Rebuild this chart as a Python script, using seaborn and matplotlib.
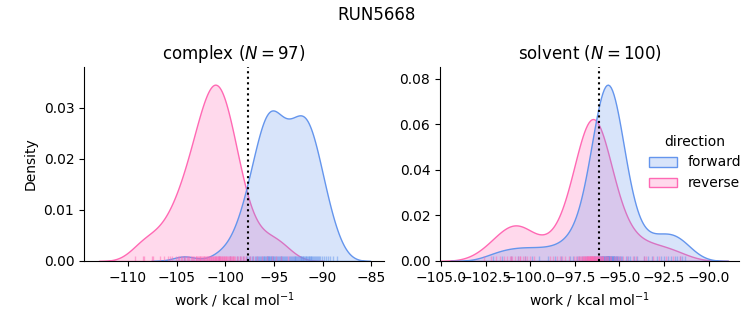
import numpy as np
import pandas as pd
import matplotlib
matplotlib.use("Agg")
import matplotlib.pyplot as plt
import seaborn as sns

run_name = "RUN5668"
phases = ["complex", "solvent"]
directions = ["forward", "reverse"]
colors = ["cornflowerblue", "hotpink"]
delta_f = [-97.67, -96.13]
x_limits = [(-114.5, -83.7), (-105.06, -88.3)]

complex_forward = [
    -104.2, -100.6, -99.5, -98.8, -98.5, -98.2,
    -97.9, -97.75, -97.6, -97.45, -97.3, -97.15,
    -96.95, -96.85, -96.75, -96.65, -96.55, -96.45, -96.35, -96.25, -96.15, -96.05,
    -95.97, -95.9, -95.83, -95.76, -95.69, -95.62, -95.58, -95.55, -95.48, -95.41,
    -95.34, -95.27, -95.2, -95.12, -95.05,
    -94.95, -94.86, -94.77, -94.68, -94.59, -94.5, -94.41, -94.32, -94.23, -94.14, -94.05,
    -93.94, -93.83, -93.72, -93.61, -93.5, -93.39, -93.28, -93.17, -93.06,
    -92.96, -92.88, -92.81, -92.73, -92.65, -92.58, -92.42, -92.35, -92.27,
    -92.19, -92.12, -92.04,
    -91.97, -91.9, -91.82, -91.75, -91.67, -91.6, -91.52, -91.45, -91.37, -91.3,
    -91.22, -91.15, -91.05,
    -90.95, -90.85, -90.75, -90.65, -90.55, -90.45, -90.35, -90.25, -90.1,
    -89.9, -89.7, -89.45, -89.2, -88.9, -88.5,
]

complex_reverse = [
    -109.3, -108.45, -108.3, -107.55, -107.4, -106.7, -106.3,
    -105.9, -105.7, -105.5, -105.1,
    -104.9, -104.74, -104.58, -104.42, -104.26, -104.1,
    -103.94, -103.81, -103.68, -103.55, -103.42, -103.29, -103.16, -103.04,
    -102.96, -102.88, -102.79, -102.71, -102.63, -102.54, -102.46, -102.38, -102.29,
    -102.21, -102.13, -102.04,
    -101.97, -101.9, -101.84, -101.77, -101.7, -101.64, -101.57, -101.5, -101.44,
    -101.37, -101.3, -101.24, -101.17, -101.1, -101.04,
    -100.97, -100.9, -100.84, -100.77, -100.7, -100.64, -100.6, -100.57, -100.5,
    -100.44, -100.37, -100.3, -100.24, -100.17, -100.1, -100.04,
    -99.96, -99.88, -99.8, -99.72, -99.64, -99.56, -99.48, -99.4, -99.32, -99.24,
    -99.16, -99.08,
    -98.95, -98.8, -98.65, -98.5, -98.35, -98.2, -98.05,
    -97.85, -97.5, -97.15, -96.7, -96.2, -95.7, -95.2, -94.8, -94.3, -93.6,
]

solvent_forward = [
    -102.1, -101.6, -101.1, -100.7, -100.3, -99.9, -99.5, -99.0, -98.6,
    -98.3, -97.8, -97.6, -97.4, -97.25, -97.1,
    -96.95, -96.8, -96.65,
    -96.45, -96.4, -96.35,
    -96.25, -96.22, -96.18, -96.15, -96.12, -96.08, -96.05,
    -96.02, -96.0, -95.98, -95.96, -95.94, -95.92, -95.9, -95.88, -95.86, -95.84,
    -95.82, -95.8, -95.78,
    -95.77, -95.755, -95.74, -95.725, -95.71, -95.695, -95.68, -95.668, -95.665,
    -95.65, -95.642, -95.635, -95.62, -95.605, -95.59, -95.575, -95.56, -95.545,
    -95.52, -95.5, -95.48, -95.46, -95.44, -95.42, -95.4, -95.38, -95.36, -95.34,
    -95.32, -95.3, -95.28,
    -95.25, -95.22, -95.18, -95.15, -95.12, -95.08, -95.05,
    -94.95, -94.9, -94.85, -94.65, -94.5, -94.4,
    -94.2, -94.0, -93.6, -93.4, -93.2,
    -92.9, -92.7, -92.5, -92.3, -92.1, -91.9, -91.8, -91.6, -91.5, -91.3,
]

solvent_reverse = [
    -102.6, -102.2,
    -101.9, -101.7, -101.5, -101.3, -101.15, -101.1, -101.0, -100.85, -100.7, -100.6,
    -100.55, -100.4, -100.3, -100.2, -100.0, -99.8,
    -98.9, -98.7, -98.5, -98.35, -98.2, -98.05,
    -97.85, -97.55, -97.45,
    -97.32, -97.28, -97.23, -97.18,
    -97.1, -97.06, -97.03, -97.0, -96.97, -96.94, -96.9,
    -96.86, -96.84, -96.81, -96.79, -96.76, -96.74, -96.71, -96.69, -96.66, -96.64,
    -96.63, -96.62, -96.6, -96.58, -96.56, -96.54, -96.53, -96.52, -96.49, -96.47,
    -96.46, -96.43, -96.41, -96.39,
    -96.36, -96.34, -96.31, -96.29, -96.26, -96.24, -96.21, -96.19, -96.16, -96.14,
    -96.1, -96.07, -96.04, -96.0, -95.97, -95.94, -95.9,
    -95.82, -95.77, -95.72, -95.67, -95.55, -95.45,
    -95.3, -95.2, -95.1, -94.95, -94.8, -94.6,
    -94.25, -94.1, -93.65, -93.5, -93.1,
    -92.8, -92.4, -92.0, -91.6,
]

works = {
    ("complex", "forward"): complex_forward,
    ("complex", "reverse"): complex_reverse,
    ("solvent", "forward"): solvent_forward,
    ("solvent", "reverse"): solvent_reverse,
}
n_samples = {"complex": len(complex_forward), "solvent": len(solvent_forward)}

frames = []
for (phase, direction), vals in works.items():
    frames.append(pd.DataFrame({"work": vals, "direction": direction, "phase": phase}))
df = pd.concat(frames, ignore_index=True)

g = sns.displot(
    data=df, x="work", hue="direction", col="phase",
    kind="kde", fill=True, rug=True,
    hue_order=directions, col_order=phases,
    palette=colors,
    rug_kws=dict(alpha=0.5),
    facet_kws=dict(sharex=False, sharey=False),
    height=3.25, aspect=1.0,
)

fig = g.figure
fig.set_size_inches(7.53, 3.25)
fig.set_dpi(100)

for ax, phase, df_val, xl in zip(g.axes.flat, phases, delta_f, x_limits):
    ax.axvline(df_val, color="k", ls=":")
    ax.set_title(f"{phase} ($N = {n_samples[phase]}$)", fontsize=12)
    ax.set_xlabel("work / kcal mol$^{-1}$")
    ax.set_xlim(*xl)

g.axes[0, 0].set_ylabel("Density")
g.axes[0, 1].set_ylabel("")

g.axes[0, 0].set_position([84 / 753, 1 - 261 / 325, 300 / 753, 194 / 325])
g.axes[0, 1].set_position([440 / 753, 1 - 261 / 325, 299 / 753, 194 / 325])

sns.move_legend(g, "center left", bbox_to_anchor=(0.845, 0.5), frameon=False,
                title="direction")

fig.suptitle(run_name, fontsize=12)

fig.savefig("out.png", dpi=100)
